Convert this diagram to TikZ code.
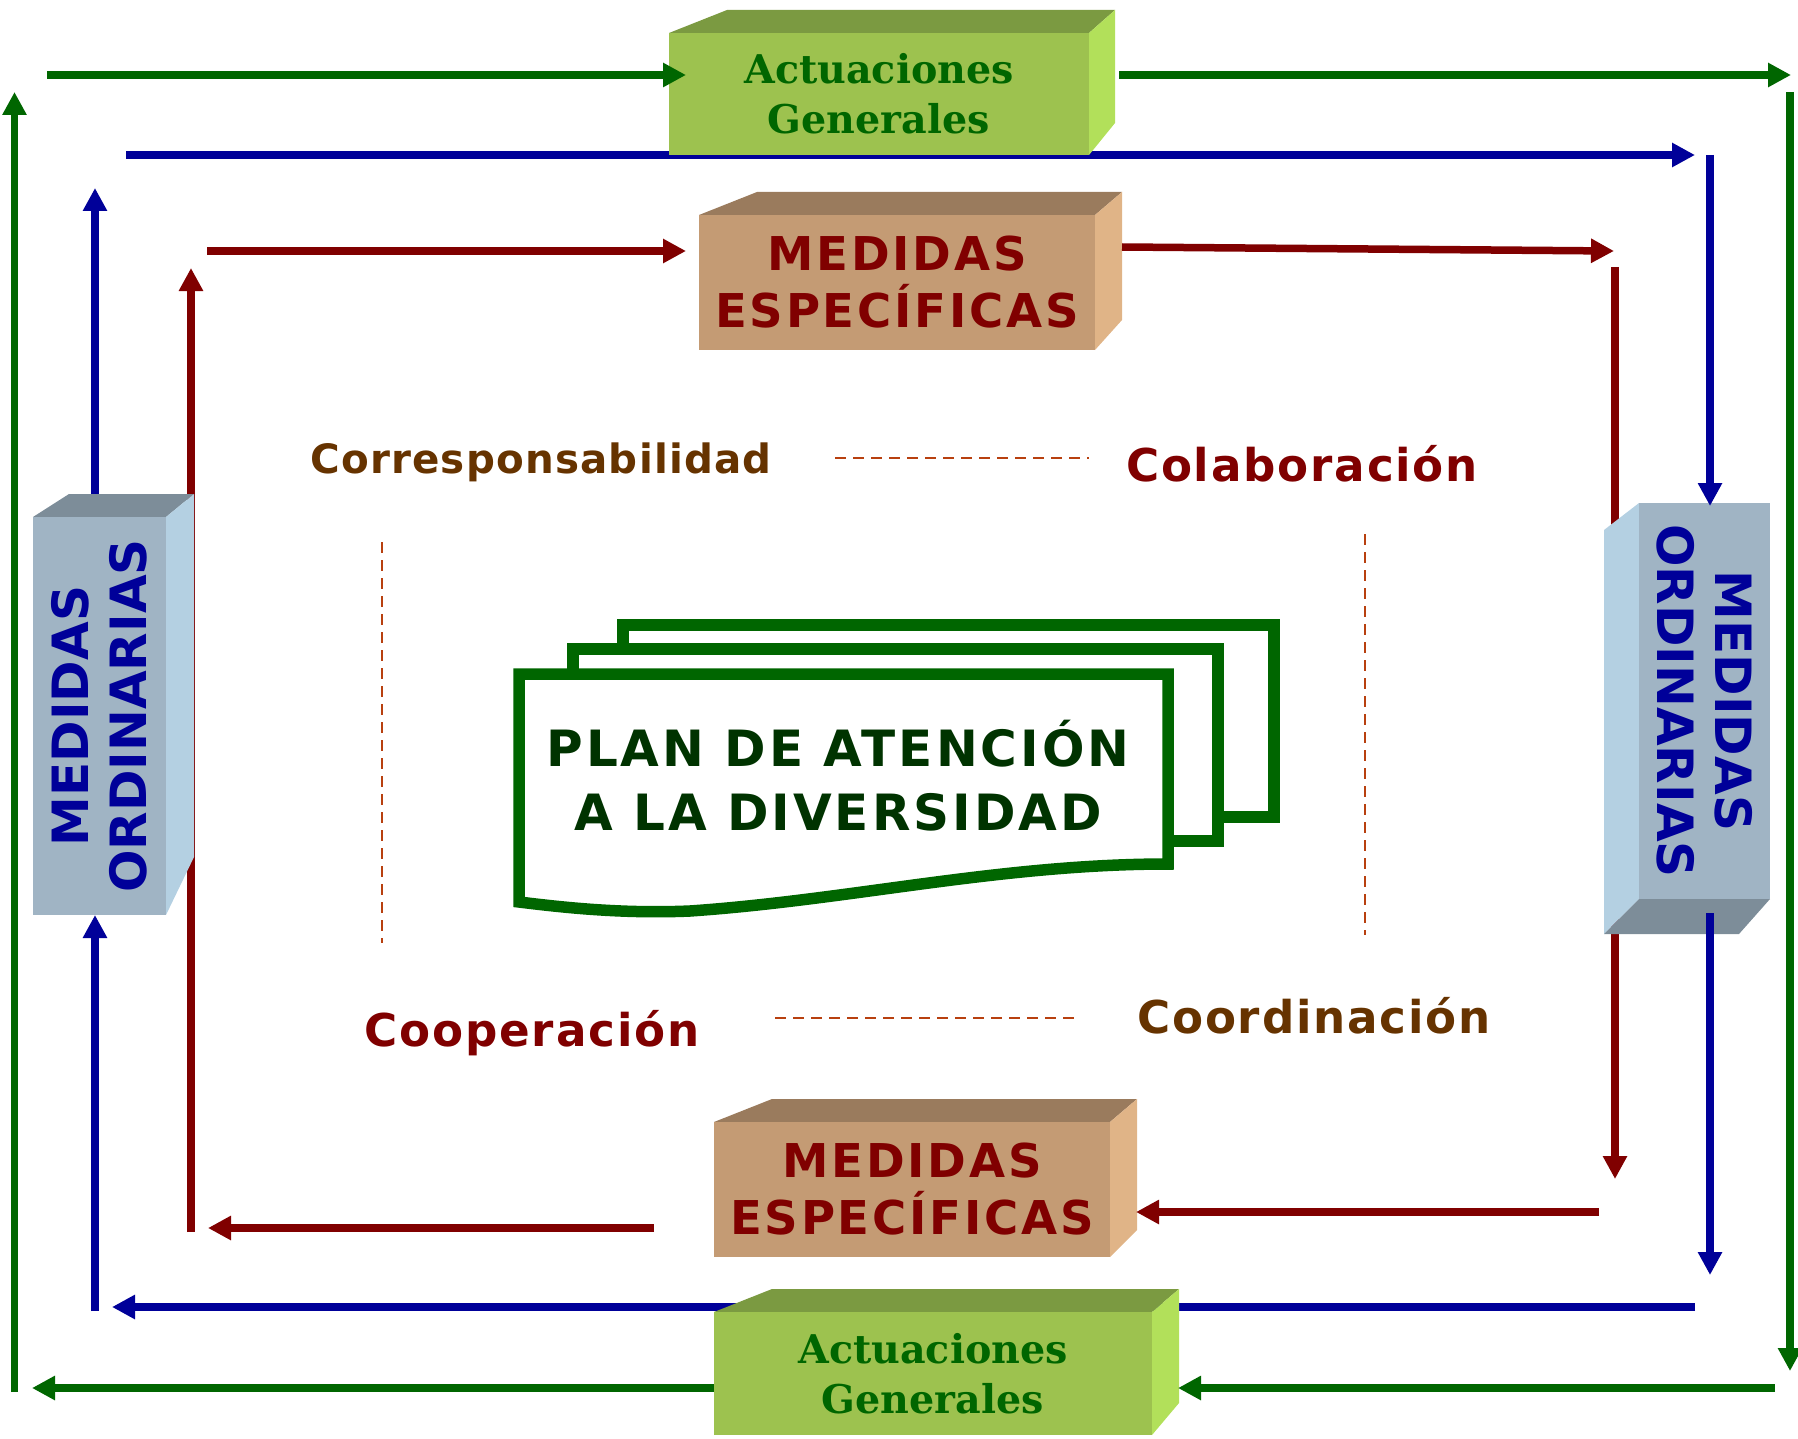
\documentclass[tikz,border=0pt]{standalone}
\usepackage{fontspec}
\setmainfont{DejaVu Sans}
\newfontfamily\boxserif{DejaVu Serif}
\usetikzlibrary{arrows.meta}
\definecolor{agreen}{HTML}{006600}
\definecolor{ared}{HTML}{800000}
\definecolor{ablue}{HTML}{000099}
\definecolor{gfront}{HTML}{9DC24F}
\definecolor{gtop}{HTML}{7B9A41}
\definecolor{gside}{HTML}{B2E05A}
\definecolor{tfront}{HTML}{C49B74}
\definecolor{ttop}{HTML}{9A7B5D}
\definecolor{tside}{HTML}{E0B487}
\definecolor{bfront}{HTML}{A0B4C4}
\definecolor{btop}{HTML}{7D8D99}
\definecolor{bside}{HTML}{B4D0E2}
\definecolor{brownt}{HTML}{663300}
\definecolor{plantext}{HTML}{003300}
\definecolor{dashc}{HTML}{B8400F}
\begin{document}
\begin{tikzpicture}[x=0.5pt,y=-0.5pt,
  conn/.style={line width=3.75pt,-{Triangle[length=11.5pt,width=11.5pt]}},
  gconn/.style={conn,draw=agreen},
  bconn/.style={conn,draw=ablue},
  rconn/.style={conn,draw=ared},
  dashlink/.style={draw=dashc,line width=1pt,dash pattern=on 5.5pt off 3.5pt},
  face/.style={inner sep=0pt,outer sep=0pt,align=center},
  agface/.style={face,fill=gfront,text=agreen,font=\boxserif\bfseries\fontsize{19.8pt}{25pt}\selectfont},
  meface/.style={face,fill=tfront,text=ared,font=\bfseries\fontsize{23.3pt}{28.5pt}\selectfont\addfontfeature{LetterSpace=6}},
  moface/.style={face,fill=bfront,text=ablue,font=\bfseries\fontsize{25pt}{29pt}\selectfont},
  label/.style={anchor=base,inner sep=0pt,font=\bfseries},
  page/.style={draw=agreen,fill=white,line width=5.75pt,line join=miter}
]
\useasboundingbox (0,0) rectangle (1798,1439);

% ---------- coordinates of connector ends ----------
\coordinate (g1a) at (47,75);   \coordinate (g1b) at (686,75);
\coordinate (g2a) at (1119,75); \coordinate (g2b) at (1791,75);
\coordinate (g3a) at (1790,92); \coordinate (g3b) at (1790,1371);
\coordinate (g4a) at (1775,1388); \coordinate (g4b) at (1178,1388);
\coordinate (g5a) at (714,1388); \coordinate (g5b) at (32,1388);
\coordinate (g6a) at (14.5,1392); \coordinate (g6b) at (14.5,92);
\coordinate (b1a) at (126,155); \coordinate (b1b) at (1695,155);
\coordinate (b2a) at (1710,155); \coordinate (b2b) at (1710,506);
\coordinate (b3a) at (1710,913); \coordinate (b3b) at (1710,1275);
\coordinate (b4a) at (1695,1307); \coordinate (b4b) at (112,1307);
\coordinate (b5a) at (95,1311); \coordinate (b5b) at (95,915);
\coordinate (b6a) at (95,494); \coordinate (b6b) at (95,188);
\coordinate (r1a) at (207,251); \coordinate (r1b) at (686,251);
\coordinate (r2a) at (1122,247); \coordinate (r2b) at (1614,251);
\coordinate (r3a) at (1615,267); \coordinate (r3b) at (1615,1179);
\coordinate (r4a) at (1599,1212); \coordinate (r4b) at (1136,1212);
\coordinate (r5a) at (654,1228); \coordinate (r5b) at (208,1228);
\coordinate (r6a) at (191,1232); \coordinate (r6b) at (191,268);

% ---------- lines passing behind boxes ----------
\draw[bconn] (b1a) -- (b1b);
\draw[bconn] (b4a) -- (b4b);
\draw[rconn] (r3a) -- (r3b);
\draw[rconn] (r6a) -- (r6b);

% ---------- top Actuaciones Generales ----------
\fill[gtop] (669,33) -- (727,10) -- (1115,10) -- (1089,33) -- cycle;
\fill[gside] (1089,33) -- (1115,10) -- (1115,123) -- (1089,155) -- cycle;
\node[agface,minimum width=210pt,minimum height=61pt] (AGt) at (879,94) {Actuaciones\\Generales};

% ---------- top Medidas especificas ----------
\fill[ttop] (699,215) -- (757,192) -- (1122,192) -- (1095,215) -- cycle;
\fill[tside] (1095,215) -- (1122,192) -- (1122,320) -- (1095,350) -- cycle;
\node[meface,minimum width=198pt,minimum height=67.5pt] (MEt) at (897,282.5) {MEDIDAS\\ESPECÍFICAS};

% ---------- bottom Medidas especificas ----------
\fill[ttop] (714,1122) -- (772,1099) -- (1137,1099) -- (1110,1122) -- cycle;
\fill[tside] (1110,1122) -- (1137,1099) -- (1137,1230) -- (1110,1257) -- cycle;
\node[meface,minimum width=198pt,minimum height=67.5pt] (MEb) at (912,1189.5) {MEDIDAS\\ESPECÍFICAS};

% ---------- bottom Actuaciones Generales ----------
\fill[gtop] (714,1312) -- (772,1289) -- (1179,1289) -- (1152,1312) -- cycle;
\fill[gside] (1152,1312) -- (1179,1289) -- (1179,1403) -- (1152,1435) -- cycle;
\node[agface,minimum width=219pt,minimum height=61.5pt] (AGb) at (933,1373.5) {Actuaciones\\Generales};

% ---------- left Medidas ordinarias ----------
\fill[btop] (33,517) -- (69,494) -- (194,494) -- (166,517) -- cycle;
\fill[bside] (166,517) -- (194,494) -- (194,857) -- (166,915) -- cycle;
\node[moface,rotate=90,minimum width=199pt,minimum height=66.5pt] (MOl) at (99.5,716) {MEDIDAS\\ORDINARIAS};

% ---------- right Medidas ordinarias ----------
\fill[bside] (1604,530) -- (1639,503) -- (1639,899) -- (1604,934) -- cycle;
\fill[btop] (1639,899) -- (1770,899) -- (1739,934) -- (1604,934) -- cycle;
\node[moface,rotate=-90,minimum width=198pt,minimum height=65.5pt] (MOr) at (1704.5,701) {MEDIDAS\\ORDINARIAS};

% ---------- remaining connectors ----------
\draw[gconn] (g1a) -- (g1b);
\draw[gconn] (g2a) -- (g2b);
\draw[gconn] (g3a) -- (g3b);
\draw[gconn] (g4a) -- (g4b);
\draw[gconn] (g5a) -- (g5b);
\draw[gconn] (g6a) -- (g6b);
\draw[bconn] (b2a) -- (b2b);
\draw[bconn] (b3a) -- (b3b);
\draw[bconn] (b5a) -- (b5b);
\draw[bconn] (b6a) -- (b6b);
\draw[rconn] (r1a) -- (r1b);
\draw[rconn] (r2a) -- (r2b);
\draw[rconn] (r4a) -- (r4b);
\draw[rconn] (r5a) -- (r5b);

% ---------- labels and dashed links ----------
\node[label,text=brownt,font=\bfseries\fontsize{20.2pt}{24pt}\selectfont\addfontfeature{LetterSpace=3}] (corr) at (541,473.5) {Corresponsabilidad};
\node[label,text=ared,font=\bfseries\fontsize{22.6pt}{27pt}\selectfont\addfontfeature{LetterSpace=4}] (cola) at (1302,481) {Colaboración};
\node[label,text=ared,font=\bfseries\fontsize{22.6pt}{27pt}\selectfont\addfontfeature{LetterSpace=4}] (coop) at (532,1046) {Cooperación};
\node[label,text=brownt,font=\bfseries\fontsize{22.6pt}{27pt}\selectfont\addfontfeature{LetterSpace=4}] (coor) at (1314,1033) {Coordinación};
\coordinate (d1a) at (835,458);  \coordinate (d1b) at (1089,458);
\coordinate (d2a) at (775,1018); \coordinate (d2b) at (1078,1018);
\coordinate (d3a) at (382,542);  \coordinate (d3b) at (382,943);
\coordinate (d4a) at (1365,534); \coordinate (d4b) at (1365,935);
\draw[dashlink] (d1a) -- (d1b);
\draw[dashlink] (d2a) -- (d2b);
\draw[dashlink] (d3a) -- (d3b);
\draw[dashlink] (d4a) -- (d4b);

% ---------- plan document ----------
\draw[page] (623,625) rectangle (1274,817);
\draw[page] (573,649) rectangle (1218,841);
\draw[page] (519,902) -- (519,674) -- (1168,674) -- (1168,864)
  .. controls (1000,864) and (850,900) .. (690,911)
  .. controls (620,914) and (560,907) .. (519,902) -- cycle;
\node[align=center,inner sep=0pt,text=plantext,font=\bfseries\fontsize{25pt}{32pt}\selectfont\addfontfeature{LetterSpace=6}] (plan) at (838,776) {PLAN DE ATENCIÓN\\A LA DIVERSIDAD};
\end{tikzpicture}
\end{document}
